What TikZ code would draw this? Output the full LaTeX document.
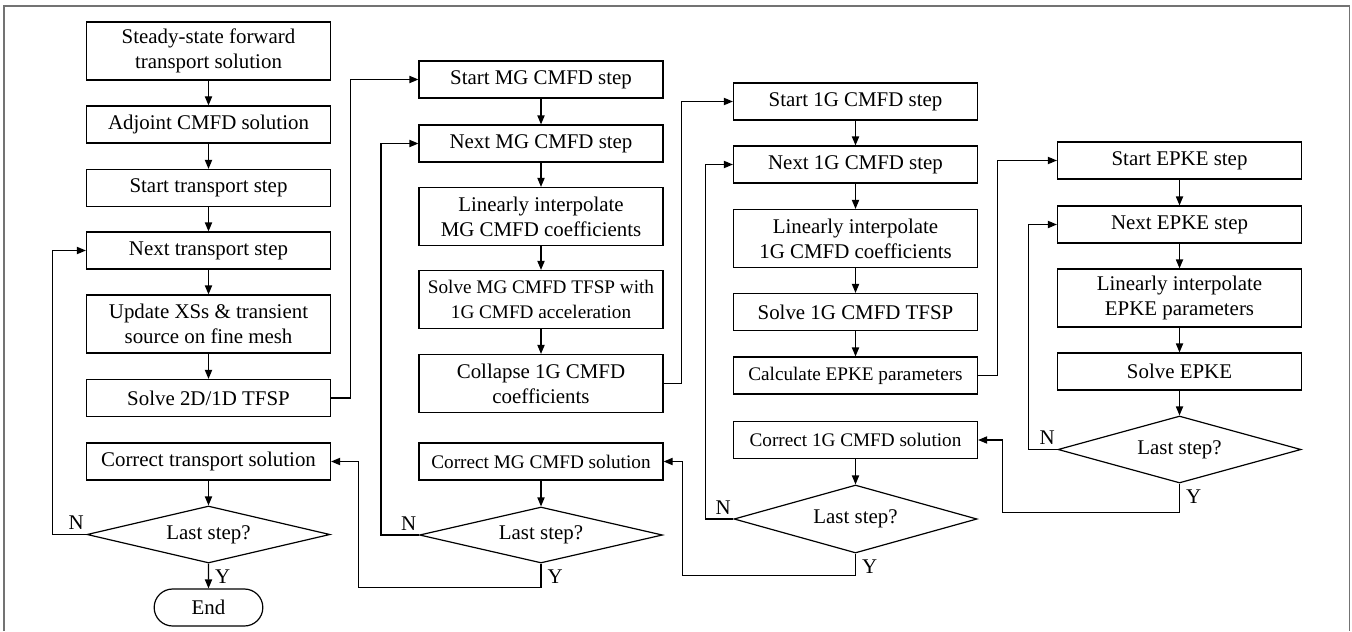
\documentclass[tikz,border=0pt]{standalone}
\usepackage{fontspec}
\setmainfont{Liberation Serif}
\usetikzlibrary{shapes.geometric,shapes.misc,arrows.meta}

\begin{document}
\begin{tikzpicture}[x=0.5pt,y=-0.5pt,
    font=\fontsize{10.45}{12.5}\selectfont,
    line width=0.6pt,
    >={Triangle[length=4.5pt,width=3.6pt]},
    box/.style={draw,rectangle,align=center,minimum width=122pt,
      minimum height=18.5pt,inner sep=1pt},
    tallbox/.style={box,minimum height=29pt},
    narrow/.style={font=\fontsize{9.6}{12.5}\selectfont},
    decision/.style={draw,diamond,aspect=4.3,inner sep=0pt,
      minimum width=121.5pt},
    stopbox/.style={draw,rounded rectangle,minimum width=61pt,
      minimum height=18.5pt},
    nlbl/.style={anchor=south east,inner sep=1pt,yshift=1pt},
    ylbl/.style={anchor=north west,inner sep=1pt,xshift=2pt,yshift=-2pt}]
  \useasboundingbox (0,0) rectangle (1352,631);
  \draw[black!55,line width=0.8pt]
    (4,631) -- (4,6) -- (1349.5,6) -- (1349.5,631);

  \node[tallbox] (ss) at (208.5,51) {Steady-state forward\\transport solution};
  \node[box] (adj) at (208.5,124.5) {Adjoint CMFD solution};
  \node[box] (tstart) at (208.5,188) {Start transport step};
  \node[box] (tnext) at (208.5,250.5) {Next transport step};
  \node[tallbox] (tupd) at (208.5,324) {Update XSs \& transient\\source on fine mesh};
  \node[box] (tsolve) at (208.5,398) {Solve 2D/1D TFSP};
  \node[box] (tcorr) at (208.5,461.5) {Correct transport solution};
  \node[decision,minimum height=28.5pt] (tlast) at (208.5,534.5) {Last step?};
  \node[stopbox] (end) at (208.5,607.5) {End};

  \node[box] (mgstart) at (541,79.5) {Start MG CMFD step};
  \node[box] (mgnext) at (541,143.5) {Next MG CMFD step};
  \node[tallbox] (mglin) at (541,216.5) {Linearly interpolate\\MG CMFD coefficients};
  \node[tallbox,narrow] (mgsolve) at (541,299.5) {Solve MG CMFD TFSP with\\1G CMFD acceleration};
  \node[tallbox] (mgcoll) at (541,383.5) {Collapse 1G CMFD\\coefficients};
  \node[box,narrow] (mgcorr) at (541,461.5) {Correct MG CMFD solution};
  \node[decision,minimum height=28pt] (mglast) at (541,535) {Last step?};

  \node[box] (ogstart) at (855.5,101.5) {Start 1G CMFD step};
  \node[box] (ognext) at (855.5,164.5) {Next 1G CMFD step};
  \node[tallbox] (oglin) at (855.5,238.5) {Linearly interpolate\\1G CMFD coefficients};
  \node[box] (ogsolve) at (855.5,312) {Solve 1G CMFD TFSP};
  \node[box,narrow] (ogcalc) at (855.5,375.5) {Calculate EPKE parameters};
  \node[box,narrow] (ogcorr) at (855.5,440) {Correct 1G CMFD solution};
  \node[decision,minimum height=34pt] (oglast) at (855.5,519) {Last step?};

  \node[box] (epstart) at (1179.5,160.5) {Start EPKE step};
  \node[box] (epnext) at (1179.5,224.5) {Next EPKE step};
  \node[tallbox] (eplin) at (1179.5,298) {Linearly interpolate\\EPKE parameters};
  \node[box] (epsolve) at (1179.5,371.5) {Solve EPKE};
  \node[decision,minimum height=33.5pt] (eplast) at (1179.5,449.5) {Last step?};

  \foreach \a/\b in {ss/adj,adj/tstart,tstart/tnext,tnext/tupd,tupd/tsolve,
      tcorr/tlast,tlast/end,mgstart/mgnext,mgnext/mglin,mglin/mgsolve,
      mgsolve/mgcoll,mgcorr/mglast,ogstart/ognext,ognext/oglin,oglin/ogsolve,
      ogsolve/ogcalc,ogcorr/oglast,epstart/epnext,epnext/eplin,eplin/epsolve,
      epsolve/eplast}
    \draw[->] (\a) -- (\b);

  \draw[->] (tlast.west) -- ++(-34,0) |- (tnext.west);
  \draw[->] (tsolve.east) -- ++(19,0) |- (mgstart.west);
  \draw[->] (mglast.south) -- ++(0,24) -| ([xshift=13.5pt]tcorr.east) -- (tcorr.east);
  \draw[->] (mglast.west) -- ++(-38,0) |- (mgnext.west);
  \draw[->] (mgcoll.east) -- ++(18,0) |- (ogstart.west);
  \draw[->] (oglast.south) -- ++(0,22) -| ([xshift=9.5pt]mgcorr.east) -- (mgcorr.east);
  \draw[->] (oglast.west) -- ++(-28,0) |- (ognext.west);
  \draw[->] (ogcalc.east) -- ++(19,0) |- (epstart.west);
  \draw[->] (eplast.south) -- ++(0,29) -| ([xshift=12pt]ogcorr.east) -- (ogcorr.east);
  \draw[->] (eplast.west) -- ++(-29,0) |- (epnext.west);

  \node[nlbl] (tn) at (tlast.west) {N};
  \node[ylbl] (ty) at (tlast.south) {Y};
  \node[nlbl] (mgn) at (mglast.west) {N};
  \node[ylbl] (mgy) at (mglast.south) {Y};
  \node[nlbl] (ogn) at (oglast.west) {N};
  \node[ylbl] (ogy) at (oglast.south) {Y};
  \node[nlbl] (epn) at (eplast.west) {N};
  \node[ylbl] (epy) at (eplast.south) {Y};
\end{tikzpicture}
\end{document}
